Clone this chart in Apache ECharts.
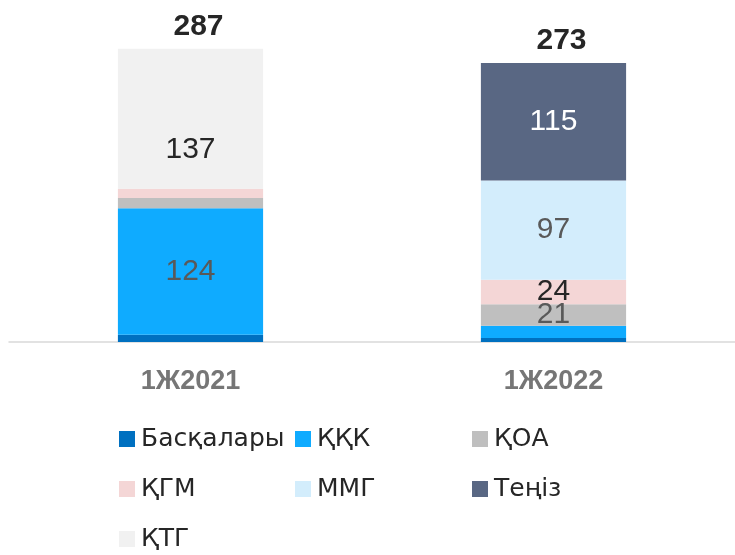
<!DOCTYPE html>
<html>
<head>
<meta charset="utf-8">
<script src="https://cdn.jsdelivr.net/npm/echarts@6/dist/echarts.min.js"></script>
<style>
  html, body { margin: 0; padding: 0; background: #fff; }
  #chart { width: 735px; height: 555px; }
</style>
</head>
<body>
<div id="chart"></div>
<script>
// данные
var categories = ['1Ж2021', '1Ж2022'];
var totals = [287, 273];

var baskalary = [7, 4];
var kkk = [124, 12];
var koa = [10, 21];
var kgm = [9, 24];
var mmg = [0, 97];
var teniz = [0, 115];
var ktg = [137, 0];

var seriesNames = ['Басқалары', 'ҚҚК', 'ҚОА', 'ҚГМ', 'ММГ', 'Теңіз', 'ҚТГ'];
var seriesData = [baskalary, kkk, koa, kgm, mmg, teniz, ktg];
var colors = ['#0070C0', '#0FABFF', '#BFBFBF', '#F4D6D6', '#D3EDFC', '#596783', '#F1F1F1'];
var labelColors = ['#595959', '#595959', '#595959', '#262626', '#595959', '#ffffff', '#262626'];

var myChart = echarts.init(document.getElementById('chart'));

var series = seriesNames.map(function (name, i) {
  return {
    name: name,
    type: 'bar',
    stack: 'total',
    barWidth: '40%',
    data: seriesData[i],
    itemStyle: { color: colors[i] },
    label: {
      show: true,
      position: 'inside',
      offset: name === 'ҚТГ' ? [0, 31] : [0, 0],
      fontFamily: 'Liberation Sans',
      fontSize: 30,
      color: labelColors[i],
      formatter: function (p) {
        return p.value >= 20 ? p.value : '';
      }
    }
  };
});

// итог сверху столбца
series.push({
  name: 'total',
  type: 'bar',
  stack: 'total',
  data: [0, 0],
  label: {
    show: true,
    position: 'top',
    distance: 7,
    offset: [8, 0],
    fontFamily: 'Liberation Sans',
    fontWeight: 'bold',
    fontSize: 30,
    color: '#262626',
    formatter: function (p) {
      return totals[p.dataIndex];
    }
  }
});

function legendCol(left, names) {
  return {
    orient: 'vertical',
    left: left,
    top: 426,
    height: 130,
    padding: 0,
    data: names,
    icon: 'rect',
    itemWidth: 16,
    itemHeight: 16,
    itemGap: 24,
    textStyle: {
      fontFamily: 'DejaVu Sans',
      fontSize: 25,
      lineHeight: 26,
      color: '#262626',
      padding: [0, 0, 0, 1]
    },
    selectedMode: false
  };
}

var option = {
  animation: false,
  color: colors,
  grid: { left: 9, width: 730, top: 15, bottom: 213 },
  xAxis: {
    type: 'category',
    data: categories,
    axisTick: { show: false },
    axisLine: { lineStyle: { color: '#D9D9D9', width: 1.5 } },
    axisLabel: {
      margin: 26,
      fontFamily: 'Liberation Sans',
      fontWeight: 'bold',
      fontSize: 27,
      color: '#767676'
    }
  },
  yAxis: {
    type: 'value',
    min: 0,
    max: 320,
    show: false
  },
  legend: [
    legendCol(119, ['Басқалары', 'ҚГМ', 'ҚТГ']),
    legendCol(295, ['ҚҚК', 'ММГ']),
    legendCol(472, ['ҚОА', 'Теңіз'])
  ],
  series: series
};

myChart.setOption(option);
</script>
</body>
</html>
